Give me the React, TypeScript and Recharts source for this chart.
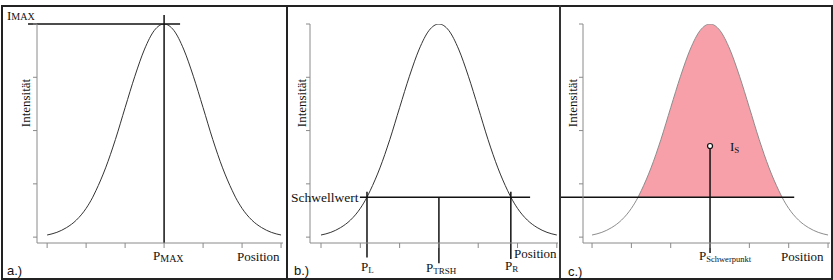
import { ComposedChart, Line, Area, XAxis, YAxis, ReferenceLine, ReferenceDot } from "recharts";

// values (x in tick units, y in tick units)
const positions = [0, 0.25, 0.5, 0.75, 1, 1.17, 1.25, 1.5, 1.75, 2, 2.25, 2.5, 2.75, 3, 3.25, 3.5, 3.75, 4, 4.25, 4.5, 4.75, 4.83, 5, 5.25, 5.5, 5.75, 6];
const intensity = [0.04, 0.09, 0.18, 0.32, 0.54, 0.75, 0.87, 1.3, 1.83, 2.43, 3.02, 3.53, 3.88, 4.0, 3.88, 3.53, 3.02, 2.43, 1.83, 1.3, 0.87, 0.75, 0.54, 0.32, 0.18, 0.09, 0.04];
const xTicks = [0, 1, 2, 3, 4, 5, 6];
const yTicks = [0, 1, 2, 3, 4];

const threshold = 0.75;
const pL = 1.17;
const pR = 4.83;
const pMax = 3;
const iMax = 4;
const centroidX = 3;
const centroidY = 1.71;

const data = positions.map((x, i) => ({
  x,
  y: intensity[i],
  fill: x >= pL && x <= pR ? intensity[i] : null,
}));

const AXIS = "#8a8a8a";
const INK = "#111";
const SERIF = "'Liberation Serif', 'DejaVu Serif', serif";
const SANS = "'Liberation Sans', Arial, sans-serif";

const noLabel = () => <g />;

interface PanelProps {
  left: number;
  width: number;
  marginLeft: number;
  marginRight: number;
  xDomain: [number, number];
  curveColor: string;
  children?: React.ReactNode;
  showFill?: boolean;
}

function Panel({ left, width, marginLeft, marginRight, xDomain, curveColor, children, showFill }: PanelProps) {
  return (
    <div style={{ position: "absolute", left, top: 0 }}>
      <ComposedChart
        width={width}
        height={280}
        data={data}
        margin={{ top: 24, bottom: 36, left: marginLeft - 1, right: marginRight }}
      >
        <XAxis
          dataKey="x"
          type="number"
          domain={xDomain}
          ticks={xTicks}
          interval={0}
          allowDataOverflow
          height={1}
          tick={noLabel}
          tickSize={5}
          stroke={AXIS}
        />
        <YAxis
          type="number"
          domain={[-0.11, 4]}
          ticks={yTicks}
          interval={0}
          allowDataOverflow
          width={1}
          tick={noLabel}
          tickSize={4}
          stroke={AXIS}
        />
        {showFill && (
          <Area
            dataKey="fill"
            type="monotone"
            baseValue={threshold}
            fill="#f7a0aa"
            fillOpacity={1}
            stroke="none"
            connectNulls={false}
            isAnimationActive={false}
          />
        )}
        <Line
          dataKey="y"
          type="monotone"
          stroke={curveColor}
          strokeWidth={1}
          dot={false}
          isAnimationActive={false}
        />
        {children}
      </ComposedChart>
    </div>
  );
}

export default function App() {
  return (
    <div style={{ position: "absolute", left: 0, top: 0, width: 833, height: 280, background: "#fff" }}>
      {/* a.) */}
      <Panel left={0} width={287} marginLeft={37} marginRight={4} xDomain={[-0.26, 6.05]} curveColor="#333">
        <ReferenceLine segment={[{ x: -0.49, y: iMax }, { x: 3.41, y: iMax }]} stroke={INK} strokeWidth={1.5} ifOverflow="visible" />
        <ReferenceLine segment={[{ x: pMax, y: -0.11 }, { x: pMax, y: 4.17 }]} stroke={INK} strokeWidth={1.5} ifOverflow="visible" />
      </Panel>

      {/* b.) */}
      <Panel left={287} width={273} marginLeft={23} marginRight={2} xDomain={[-0.28, 6.03]} curveColor="#333">
        <ReferenceLine segment={[{ x: 0.99, y: threshold }, { x: 5.32, y: threshold }]} stroke={INK} strokeWidth={1.5} ifOverflow="visible" />
        <ReferenceLine segment={[{ x: pL, y: 0.85 }, { x: pL, y: -0.38 }]} stroke={INK} strokeWidth={1.5} ifOverflow="visible" />
        <ReferenceLine segment={[{ x: 3, y: threshold }, { x: 3, y: -0.49 }]} stroke={INK} strokeWidth={1.5} ifOverflow="visible" />
        <ReferenceLine segment={[{ x: pR, y: 0.85 }, { x: pR, y: -0.41 }]} stroke={INK} strokeWidth={1.5} ifOverflow="visible" />
      </Panel>

      {/* c.) */}
      <Panel left={560} width={271} marginLeft={23} marginRight={1} xDomain={[-0.23, 6.05]} curveColor="#8c8c8c" showFill>
        <ReferenceLine segment={[{ x: -0.81, y: threshold }, { x: 5.14, y: threshold }]} stroke={INK} strokeWidth={1.5} ifOverflow="visible" />
        <ReferenceLine segment={[{ x: centroidX, y: centroidY }, { x: centroidX, y: -0.3 }]} stroke={INK} strokeWidth={1.5} ifOverflow="visible" />
        <ReferenceDot x={centroidX} y={centroidY} r={2.5} fill="#fff" stroke={INK} strokeWidth={1.2} ifOverflow="visible" />
      </Panel>

      {/* frame */}
      <div style={{ position: "absolute", left: 1, top: 5, width: 828, height: 271, border: "2px solid #222" }} />
      <div style={{ position: "absolute", left: 286, top: 5, width: 2, height: 273, background: "#222" }} />
      <div style={{ position: "absolute", left: 559, top: 5, width: 2, height: 273, background: "#333" }} />

      {/* labels */}
      <svg width={833} height={280} style={{ position: "absolute", left: 0, top: 0 }} fill={INK}>
        <g fontFamily={SERIF} fontSize={13}>
          <text x={7} y={20}>I<tspan fontSize={10}>MAX</tspan></text>
          <text x={153} y={260}>P<tspan fontSize={10} dy={2}>MAX</tspan></text>
          <text x={237} y={261}>Position</text>
          <text x={25} y={103} transform="rotate(-90 25 103)" textAnchor="middle" dominantBaseline="central">Intensität</text>

          <text x={291} y={202} fontSize={13.5}>Schwellwert</text>
          <text x={361} y={271}>P<tspan fontSize={9} dy={2}>L</tspan></text>
          <text x={426} y={272}>P<tspan fontSize={9} dy={2}>TRSH</tspan></text>
          <text x={505} y={270}>P<tspan fontSize={9} dy={2}>R</tspan></text>
          <text x={514} y={258}>Position</text>
          <text x={301} y={103} transform="rotate(-90 301 103)" textAnchor="middle" dominantBaseline="central">Intensität</text>

          <text x={730} y={151}>I<tspan fontSize={9} dy={2}>S</tspan></text>
          <text x={699} y={260}>P<tspan fontSize={8.5} dy={2}>Schwerpunkt</tspan></text>
          <text x={781} y={261}>Position</text>
          <text x={572} y={103} transform="rotate(-90 572 103)" textAnchor="middle" dominantBaseline="central">Intensität</text>
        </g>
        <g fontFamily={SANS} fontSize={13}>
          <text x={7} y={275}>a.)</text>
          <text x={294} y={275}>b.)</text>
          <text x={568} y={276}>c.)</text>
        </g>
      </svg>
    </div>
  );
}
